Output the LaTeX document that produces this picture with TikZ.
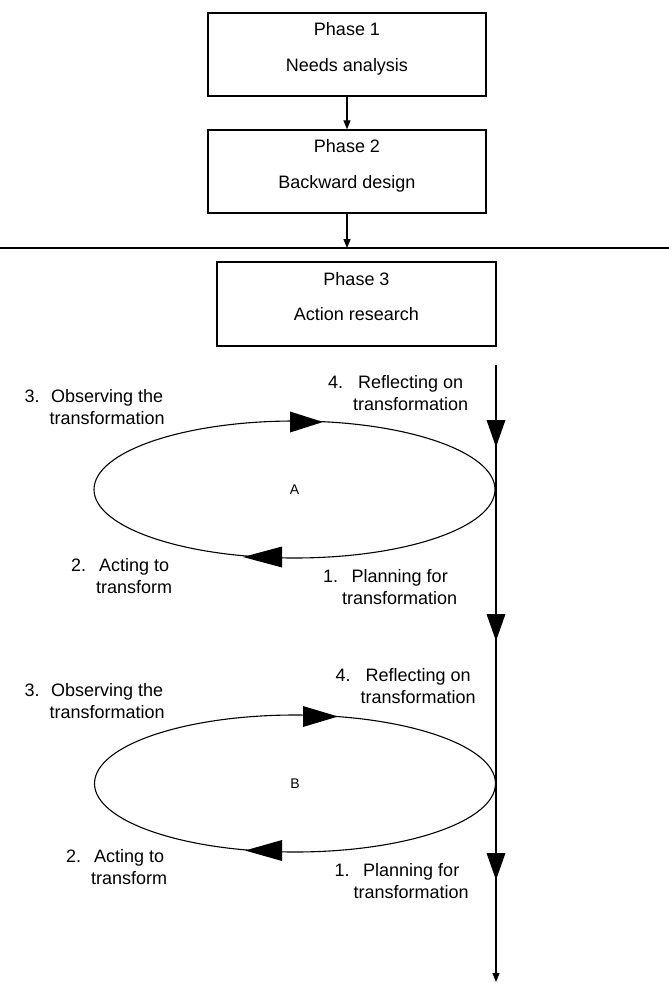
\documentclass[tikz,border=0pt]{standalone}
\usepackage{fontspec}
\setmainfont{Liberation Sans}
\usetikzlibrary{arrows.meta,shapes.geometric}
\newcommand{\steplabel}[4][10pt]{\begin{tabular}[t]{@{}l@{\hspace{#1}}c@{}}#2 & #3\\ & #4\end{tabular}}
\begin{document}
\begin{tikzpicture}[x=1pt,y=-1pt,
  phasebox/.style={draw, line width=1.3pt, minimum width=278pt, minimum height=83pt, inner sep=0pt},
  txt/.style={font=\fontsize{18}{22}\selectfont, inner sep=0pt, anchor=base},
  lbl/.style={font=\fontsize{18}{22}\selectfont, inner sep=0pt, anchor=base west},
  cyc/.style={draw, ellipse, line width=1.1pt, minimum width=401pt, minimum height=137pt, inner sep=0pt, font=\fontsize{14}{16}\selectfont},
  conn/.style={line width=1.2pt, -{Triangle[length=9pt,width=7pt]}},
  plain/.style={line width=1.2pt}
]
\useasboundingbox (0,0) rectangle (669,983);

% Phase boxes
\node[phasebox] (p1) at (347,54.5) {};
\node[txt] (p1a) at (347,35.5) {Phase 1};
\node[txt] (p1b) at (347,71) {Needs analysis};

\node[phasebox] (p2) at (347,171.5) {};
\node[txt] (p2a) at (347,152.5) {Phase 2};
\node[txt] (p2b) at (347,188) {Backward design};

\node[phasebox, minimum width=279pt, minimum height=84pt] (p3) at (356.5,304) {};
\node[txt] (p3a) at (356.5,285.5) {Phase 3};
\node[txt] (p3b) at (356.5,320.5) {Action research};

% horizontal separator
\coordinate (hlW) at (0,248);
\coordinate (hlE) at (669,248);
\coordinate (hl) at (347,248);
\draw[plain] (hlW) -- (hlE);

\draw[conn] (p1.south) -- (p2.north);
\draw[conn] (p2.south) -- (hl);

% vertical time line
\coordinate (vtop) at (496,365);
\coordinate (vbot) at (496,982);
\draw[conn] (vtop) -- (vbot);
\fill (486.5,420) -- (496,447) -- (505.5,420) -- cycle;
\fill (486.5,614) -- (496,641) -- (505.5,614) -- cycle;
\fill (486.5,853) -- (496,880) -- (505.5,853) -- cycle;

% cycle A
\node[cyc] (cycA) at (294.5,489.5) {A};
\fill (290,411.5) -- (323,422) -- (290,432.5) -- cycle;
\fill (282,546.5) -- (243,557) -- (282,567.5) -- cycle;
\node[lbl] (a3) at (24.5,402.5) {\steplabel{3.}{Observing the}{transformation}};
\node[lbl] (a4) at (328,388.5) {\steplabel{4.}{Reflecting on}{transformation}};
\node[lbl] (a2) at (71,571.5) {\steplabel{2.}{Acting to}{transform}};
\node[lbl] (a1) at (323,582.5) {\steplabel[4pt]{1.}{Planning for}{transformation}};

% cycle B
\node[cyc] (cycB) at (295,783.5) {B};
\fill (303,706) -- (338,716.5) -- (303,727) -- cycle;
\fill (282,840) -- (245,850.5) -- (282,861) -- cycle;
\node[lbl] (b3) at (24.5,696.5) {\steplabel{3.}{Observing the}{transformation}};
\node[lbl] (b4) at (335.5,681.5) {\steplabel{4.}{Reflecting on}{transformation}};
\node[lbl] (b2) at (66,862.5) {\steplabel{2.}{Acting to}{transform}};
\node[lbl] (b1) at (334.5,876.5) {\steplabel[4pt]{1.}{Planning for}{transformation}};
\end{tikzpicture}
\end{document}
